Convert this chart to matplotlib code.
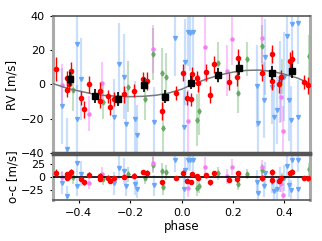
import matplotlib
matplotlib.use("Agg")
import matplotlib.pyplot as plt

# ---------------------------------------------------------------------------
# Data
# ---------------------------------------------------------------------------

# model curve
MODEL_PHASE = [-0.5, -0.45, -0.4, -0.35, -0.3, -0.25, -0.2, -0.15, -0.1, -0.05, 0.0,
               0.05, 0.1, 0.15, 0.2, 0.25, 0.3, 0.35, 0.4, 0.45, 0.5]
MODEL_RV = [0.5, -2.0, -3.8, -5.4, -6.4, -6.9, -7.1, -6.9, -6.3, -5.0, -2.8,
            0.6, 3.3, 5.6, 7.2, 8.2, 8.4, 7.7, 6.0, 3.8, 0.5]

# red instrument
RED_PHASE = [-0.489, -0.445, -0.438, -0.430, -0.447, -0.391, -0.381, -0.359, -0.316, -0.317,
             -0.287, -0.277, -0.263, -0.223, -0.184, -0.149, -0.136, -0.077, -0.020, 0.007,
             0.022, 0.037, 0.041, 0.058, 0.062, 0.094, 0.109, 0.126, 0.185, 0.218,
             0.216, 0.313, 0.350, 0.350, 0.378, 0.385, 0.422, 0.431, 0.475, 0.491]
RED_RV = [9.0, -3.5, 0.5, 8.0, 4.0, -7.7, -14.5, 0.0, -3.6, -9.5,
          -7.0, -13.0, -8.5, -5.7, -3.6, 3.2, 2.0, -15.5, -5.1, 6.8,
          -7.7, -8.7, 6.0, 3.6, 0.7, 7.1, -6.1, 11.8, 1.6, 15.5,
          4.2, 6.9, 17.8, 2.0, 0.2, 4.2, 13.7, 15.0, 1.6, -0.5]
RED_ERR = [7, 4, 5, 5, 4, 4, 5, 5, 5, 4,
           4, 5, 4, 5, 4, 4, 5, 5, 4, 5,
           4, 4, 4, 4, 5, 5, 5, 5, 5, 5,
           5, 5, 5, 5, 5, 4, 5, 5, 4, 5]
RED_RES = [9.0, -1.3, 2.9, 10.7, 6.1, -3.6, -10.1, 5.1, 2.5, -3.4,
           -0.5, -6.4, -1.7, 1.3, 3.4, 10.1, 8.7, -9.8, -1.4, 9.1,
           -6.4, -8.4, 6.0, 2.6, -0.5, 4.1, -9.8, 7.3, -5.1, 7.9,
           -3.3, -1.3, 10.1, -5.7, -6.6, -2.3, 8.7, 10.4, -0.6, -1.6]

# blue instrument
BLUE_PHASE = [-0.465, -0.406, -0.393, -0.409, -0.447, -0.265, -0.224, -0.215, -0.173, -0.181,
              -0.107, -0.243, -0.025, 0.014, 0.023, 0.034, 0.044, 0.009, 0.295, 0.323,
              0.298, 0.350, 0.372, 0.381, 0.409, 0.430, 0.419, 0.453, 0.427, 0.398,
              0.320, 0.359, 0.453]
BLUE_RV = [-12.6, 23.5, 3.2, -20.3, -37.8, -18.8, 4.6, -23.0, -29.7, -20.2,
           -21.7, 11.8, 27.0, 13.1, 30.8, 29.9, 30.5, -25.0, -0.7, 16.1,
           -22.3, -1.2, -14.9, 1.5, 28.0, 35.3, -9.0, -19.2, -20.7, 4.6,
           -9.0, -19.2, 36.0]
BLUE_ERR = [22, 26, 24, 20, 18, 22, 25, 20, 18, 22,
            20, 24, 22, 25, 20, 22, 24, 22, 24, 22,
            20, 22, 20, 24, 22, 20, 24, 22, 20, 26,
            22, 20, 24]
BLUE_RES = [-11.3, 27.1, 7.2, -16.8, -35.7, -12.0, 11.6, -16.0, -22.7, -13.2,
            -15.3, 18.7, 32.9, 14.9, 34.0, 33.4, 33.3, -22.8, -9.1, 8.0,
            -30.7, -8.9, -21.9, -5.1, 22.4, 32.6, -14.2, -22.8, -25.5, -1.5,
            -17.1, -26.6, 33.4]

# green instrument
GREEN_PHASE = [-0.421, -0.304, -0.208, -0.144, -0.111, -0.075, -0.062, -0.071,
               0.058, 0.066, 0.142, 0.220, 0.255, 0.313, 0.495, 0.391]
GREEN_RV = [-3.2, -10.4, -1.3, -8.7, 17.8, 6.5, 4.2, -25.2,
            -20.7, -15.4, 12.7, -4.8, 14.9, 22.5, 16.6, 4.6]
GREEN_ERR = [12, 10, 15, 12, 15, 15, 14, 15,
             15, 14, 12, 12, 10, 12, 12, 10]
GREEN_RES = [-0.2, -4.1, 5.8, -1.9, 24.2, 12.2, 9.5, -19.6,
             -21.7, -16.9, 7.5, -12.4, 6.7, 14.3, 15.8, -1.7]

# magenta instrument
MAG_PHASE = [-0.466, -0.362, -0.311, -0.111, 0.090, 0.023, 0.175, 0.195, 0.313, 0.394, 0.388]
MAG_RV = [-0.3, -17.0, 1.0, 20.5, 21.7, -21.3, 8.0, 26.5, 27.3, -27.4, -7.1]
MAG_ERR = [12, 10, 12, 14, 20, 18, 15, 15, 15, 15, 15]
MAG_RES = [0.9, -12.0, 7.2, 26.9, 18.9, -20.1, 1.6, 19.5, 19.1, -33.6, -13.5]

# binned
BIN_PHASE = [-0.434, -0.337, -0.248, -0.146, -0.063, 0.037, 0.142, 0.223, 0.352, 0.429]
BIN_RV = [3.2, -6.9, -8.3, -0.5, -7.1, 1.1, 5.4, 9.5, 6.7, 7.9]
BIN_ERR = [4, 4, 4, 4, 4, 4, 4, 4, 4, 4]


def style_spines(ax, top_dark, bottom_dark):
    ax.spines["left"].set_color("#aaaaaa")
    ax.spines["left"].set_linewidth(2.2)
    ax.spines["right"].set_color("#aaaaaa")
    ax.spines["right"].set_linewidth(2.2)
    ax.spines["top"].set_color("#555555")
    ax.spines["top"].set_linewidth(top_dark)
    ax.spines["bottom"].set_color("#555555")
    ax.spines["bottom"].set_linewidth(bottom_dark)


def draw_sets(ax, red_y, blue_y, green_y, mag_y):
    ax.errorbar(BLUE_PHASE, blue_y, yerr=BLUE_ERR, fmt="none",
                ecolor="#4f95f5", elinewidth=1.6, alpha=0.3, capsize=0, zorder=1)
    ax.plot(BLUE_PHASE, blue_y, "v", color="#6aa6f7", ms=2.8, zorder=2)
    ax.errorbar(GREEN_PHASE, green_y, yerr=GREEN_ERR, fmt="none",
                ecolor="#3c9a3c", elinewidth=1.5, alpha=0.3, capsize=0, zorder=1)
    ax.plot(GREEN_PHASE, green_y, "d", color="#66aa66", ms=2.6, zorder=2)
    ax.errorbar(MAG_PHASE, mag_y, yerr=MAG_ERR, fmt="none",
                ecolor="#f060f0", elinewidth=1.5, alpha=0.35, capsize=0, zorder=1)
    ax.plot(MAG_PHASE, mag_y, "o", color="#f080f0", ms=2.2, zorder=2)
    ax.errorbar(RED_PHASE, red_y, yerr=RED_ERR, fmt="o", color="red", ms=3.0,
                elinewidth=1.0, capsize=0, zorder=4)


def main() -> None:
    fig = plt.figure(figsize=(3.22, 2.41), dpi=100)
    ax1 = fig.add_axes([0.165, 0.365, 0.798, 0.569])
    ax2 = fig.add_axes([0.165, 0.170, 0.798, 0.191])

    # top panel
    draw_sets(ax1, RED_RV, BLUE_RV, GREEN_RV, MAG_RV)
    ax1.plot(MODEL_PHASE, MODEL_RV, color="#777777", lw=1.1, zorder=3)
    ax1.errorbar(BIN_PHASE, BIN_RV, yerr=BIN_ERR, fmt="s", color="black", ms=4.6,
                 elinewidth=1.2, capsize=0, zorder=5)
    ax1.set_xlim(-0.5, 0.5)
    ax1.set_ylim(-40, 40)
    ax1.set_yticks([-40, -20, 0, 20, 40])
    ax1.set_xticks([-0.4, -0.2, 0.0, 0.2, 0.4])
    ax1.tick_params(labelbottom=False, labelsize=8, length=2.5)
    ax1.set_ylabel("RV [m/s]", fontsize=8.5, labelpad=2)
    style_spines(ax1, 1.2, 2.5)

    # residuals
    draw_sets(ax2, RED_RES, BLUE_RES, GREEN_RES, MAG_RES)
    ax2.axhline(0, color="black", lw=1.2, zorder=3)
    ax2.set_xlim(-0.5, 0.5)
    ax2.set_ylim(-44, 45)
    ax2.set_yticks([-25, 0, 25])
    ax2.set_xticks([-0.4, -0.2, 0.0, 0.2, 0.4])
    ax2.tick_params(labelsize=8, length=2.5)
    ax2.set_ylabel("o-c [m/s]", fontsize=8.5, labelpad=1)
    ax2.set_xlabel("phase", fontsize=8.5, labelpad=1)
    style_spines(ax2, 2.5, 1.2)

    fig.align_ylabels([ax1, ax2])
    fig.savefig("out.png", dpi=100)
    plt.close(fig)


if __name__ == "__main__":
    main()
